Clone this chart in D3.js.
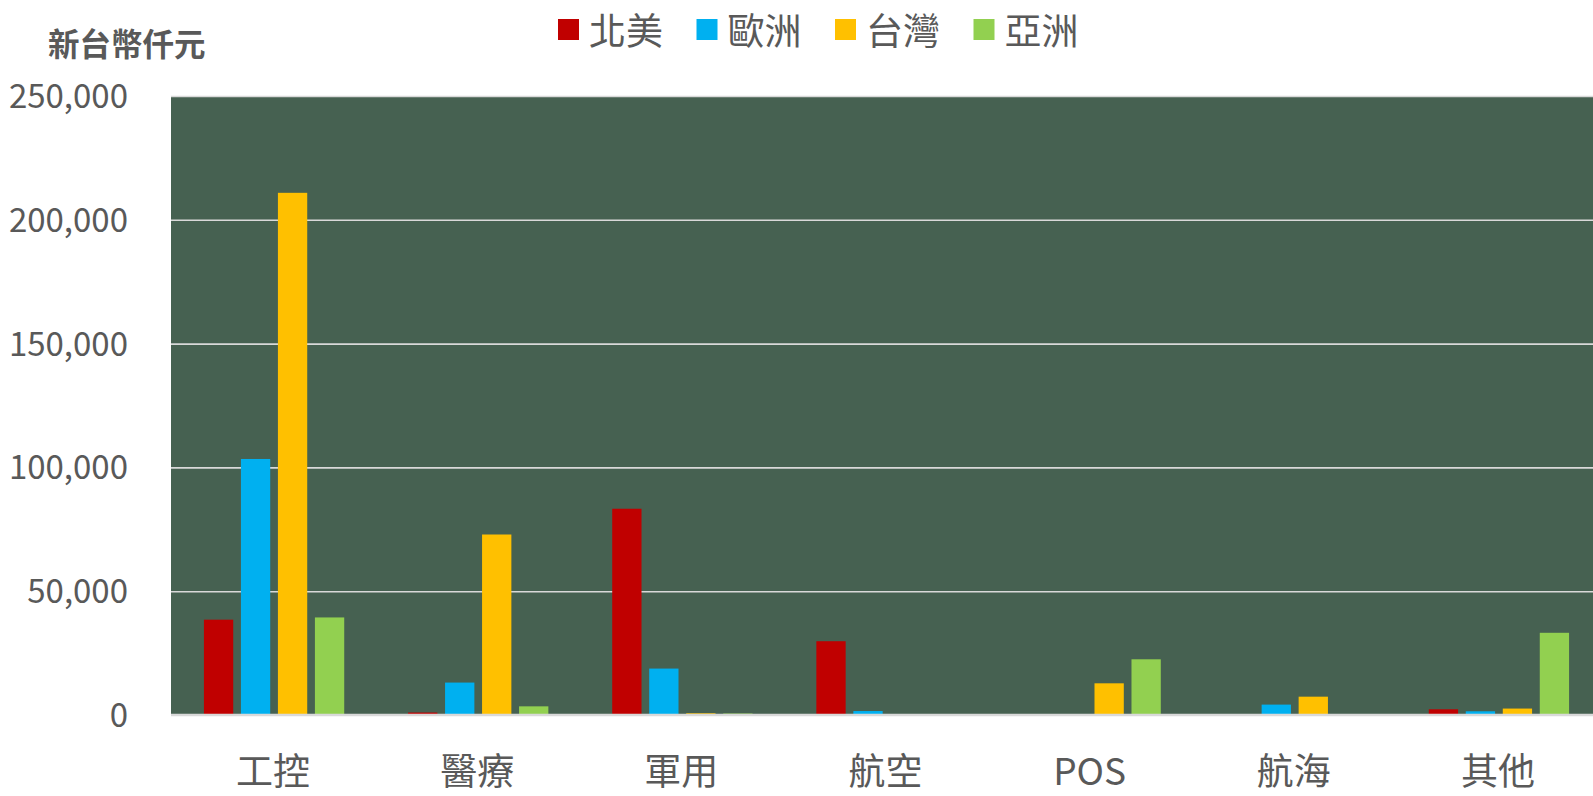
<!DOCTYPE html>
<html>
<head>
<meta charset="utf-8">
<script src="https://cdn.jsdelivr.net/npm/d3@7"></script>
<style>
  body { margin: 0; background: #fff; }
  svg { display: block; font-family: "Noto Sans CJK TC", "Noto Sans", sans-serif; }
</style>
</head>
<body>
<svg id="chart" width="1593" height="796"></svg>
<script>
var categories = ["工控", "醫療", "軍用", "航空", "POS", "航海", "其他"];
var seriesNames = ["北美", "歐洲", "台灣", "亞洲"];
var seriesColors = ["#c00000", "#00b0f0", "#ffc000", "#92d050"];

var northAmerica = [38500, 1000, 83300, 29800, 0, 0, 2300];
var europe       = [103400, 13100, 18750, 1600, 0, 4200, 1500];
var taiwan       = [210900, 72900, 700, 0, 12800, 7400, 2600];
var asia         = [39400, 3500, 600, 0, 22500, 0, 33200];

var yTicks = [0, 50000, 100000, 150000, 200000, 250000];
var yTitle = "新台幣仟元";

var seriesValues = [northAmerica, europe, taiwan, asia];
var textColor = "#595959";

var svg = d3.select("svg#chart");

var plotLeft = 171, plotRight = 1600;
var plotTop = 96, plotBottom = 715;

/*Scales*/
var yScale = d3.scaleLinear()
  .domain([0, 250000])
  .range([plotBottom, plotTop]);

var xScale = d3.scaleBand()
  .domain(categories)
  .range([plotLeft, plotRight])
  .padding(0);

var groupWidth = 140.3;
var innerScale = d3.scaleBand()
  .domain(seriesNames)
  .range([(xScale.bandwidth() - groupWidth) / 2 + 1, (xScale.bandwidth() + groupWidth) / 2 + 1])
  .paddingInner(0.208)
  .paddingOuter(0);

// plot background
svg.append("rect")
  .attr("x", plotLeft)
  .attr("y", plotTop)
  .attr("width", plotRight - plotLeft)
  .attr("height", plotBottom - plotTop)
  .attr("fill", "#466151");

// gridlines
var grid = d3.axisLeft(yScale)
  .tickValues(yTicks.filter(function(d) { return d > 0; }))
  .tickFormat("")
  .tickSize(-(plotRight - plotLeft));

svg.append("g")
  .attr("class", "grid")
  .attr("transform", "translate(" + plotLeft + ",0)")
  .call(grid)
  .call(function(g) {
    g.select(".domain").remove();
    g.selectAll("line").attr("stroke", "#d9d9d9").attr("stroke-width", 1.6);
  });

// bars
var rows = categories.map(function(c, i) {
  return { category: c, values: seriesNames.map(function(s, j) {
    return { name: s, value: seriesValues[j][i], color: seriesColors[j] };
  }) };
});

var groups = svg.append("g").attr("id", "bars")
  .selectAll("g")
  .data(rows)
  .enter().append("g")
  .attr("transform", function(d) { return "translate(" + xScale(d.category) + ",0)"; });

groups.selectAll("rect")
  .data(function(d) { return d.values.filter(function(v) { return v.value > 0; }); })
  .enter().append("rect")
  .attr("x", function(d) { return innerScale(d.name); })
  .attr("width", innerScale.bandwidth())
  .attr("y", function(d) { return yScale(d.value); })
  .attr("height", function(d) { return plotBottom - yScale(d.value); })
  .attr("fill", function(d) { return d.color; });

// baseline
svg.append("line")
  .attr("x1", plotLeft)
  .attr("x2", plotRight)
  .attr("y1", yScale(0))
  .attr("y2", yScale(0))
  .attr("stroke", "#d9d9d9")
  .attr("stroke-width", 2.5);

// y axis labels
var yAxis = d3.axisLeft(yScale)
  .tickValues(yTicks)
  .tickFormat(d3.format(","))
  .tickSize(0)
  .tickPadding(0);

svg.append("g")
  .attr("id", "y-axis")
  .attr("transform", "translate(128,0)")
  .call(yAxis)
  .call(function(g) {
    g.select(".domain").remove();
    g.selectAll("text")
      .attr("fill", textColor)
      .attr("font-size", 33)
      .attr("font-family", "'Noto Sans CJK TC', sans-serif")
      .attr("dy", "0.35em");
  });

// x axis labels
var xAxis = d3.axisBottom(xScale).tickSize(0).tickPadding(0);
svg.append("g")
  .attr("id", "x-axis")
  .attr("transform", "translate(0,785)")
  .call(xAxis)
  .call(function(g) {
    g.select(".domain").remove();
    g.selectAll("text")
      .attr("fill", textColor)
      .attr("font-size", 37)
      .attr("font-family", "'Noto Sans CJK TC', sans-serif")
      .attr("y", 0)
      .attr("dy", 0);
  });

// y title
svg.append("text")
  .attr("x", 48)
  .attr("y", 56)
  .attr("fill", textColor)
  .attr("font-size", 31.5)
  .attr("font-weight", "bold")
  .text(yTitle);

// legend
var legend = svg.append("g").attr("id", "legend")
  .selectAll("g")
  .data(seriesNames)
  .enter().append("g")
  .attr("transform", function(d, i) { return "translate(" + (558 + i * 138.5) + ",0)"; });

legend.append("rect")
  .attr("x", 0)
  .attr("y", 19)
  .attr("width", 21)
  .attr("height", 21)
  .attr("fill", function(d, i) { return seriesColors[i]; });

legend.append("text")
  .attr("x", 31)
  .attr("y", 45)
  .attr("fill", textColor)
  .attr("font-size", 37)
  .text(function(d) { return d; });
</script>
</body>
</html>
